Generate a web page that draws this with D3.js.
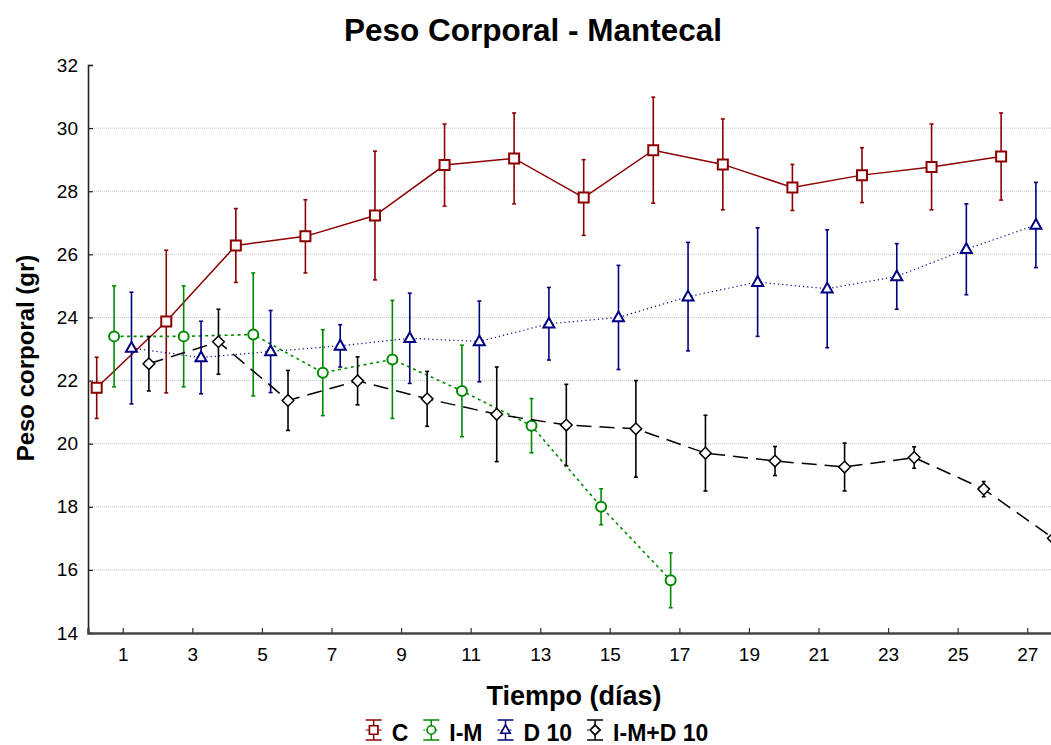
<html>

<head>
  <script src="https://d3js.org/d3.v7.min.js"></script>
  <style>
    body {
      margin: 0;
      background-color: white;
    }

    svg {
      display: block;
      font-family: "Liberation Sans", Arial, sans-serif;
    }
  </style>
</head>

<body>
  <div id="chart"></div>
</body>

<script>
  // Body weight, mean and standard deviation per group, every 2 days
  var dias = [1, 3, 5, 7, 9, 11, 13, 15, 17, 19, 21, 23, 25, 27];
  var grupos = ["C", "I-M", "D 10", "I-M+D 10"];

  var mediaC = [21.77, 23.87, 26.28, 26.57, 27.23, 28.83, 29.04, 27.80, 29.30, 28.85, 28.12, 28.51, 28.77, 29.10];
  var deC = [0.97, 2.26, 1.17, 1.16, 2.04, 1.30, 1.44, 1.20, 1.68, 1.44, 0.73, 0.87, 1.36, 1.38];

  var mediaIM = [23.40, 23.40, 23.46, 22.25, 22.67, 21.67, 20.57, 18.00, 15.67];
  var deIM = [1.60, 1.60, 1.95, 1.36, 1.87, 1.45, 0.86, 0.57, 0.87];

  var mediaD10 = [23.03, 22.73, 22.92, 23.10, 23.34, 23.24, 23.80, 24.00, 24.66, 25.12, 24.91, 25.30, 26.16, 26.93];
  var deD10 = [1.77, 1.15, 1.30, 0.67, 1.43, 1.28, 1.15, 1.65, 1.72, 1.72, 1.87, 1.04, 1.44, 1.35];

  var mediaIMD = [22.53, 23.23, 21.37, 21.99, 21.42, 20.93, 20.59, 20.47, 19.70, 19.45, 19.26, 19.56, 18.56, 17.00];
  var deIMD = [0.86, 1.03, 0.95, 0.76, 0.87, 1.50, 1.29, 1.53, 1.20, 0.46, 0.76, 0.34, 0.24, 0.30];

  var yTicks = [14, 16, 18, 20, 22, 24, 26, 28, 30, 32];

  var width = 1051, height = 745;
  var plotLeft = 88, plotRight = 1062, plotTop = 65, plotBottom = 633;

  var svg = d3.select("#chart").append("svg")
    .attr("width", width).attr("height", height);

  var x = d3.scaleLinear().domain([0, 28]).range([plotLeft, plotRight]);
  var y = d3.scaleLinear().domain([14, 32]).range([plotBottom, plotTop]);

  // series config: colour, dash pattern, marker, horizontal shift in days
  var series = [
    { name: grupos[0], media: mediaC, de: deC, color: "#8b0000", dash: null, width: 1.5, marker: "square", shift: -0.75 },
    { name: grupos[1], media: mediaIM, de: deIM, color: "#008a00", dash: "3,3.5", width: 1.6, marker: "circle", shift: -0.25 },
    { name: grupos[2], media: mediaD10, de: deD10, color: "#000080", dash: "1.2,3", width: 1.2, marker: "triangle", shift: 0.25 },
    { name: grupos[3], media: mediaIMD, de: deIMD, color: "#000000", dash: "15,8", width: 1.5, marker: "diamond", shift: 0.75 }
  ];

  function markerPath(kind) {
    if (kind == "square") return "M-5,-5H5V5H-5Z";
    if (kind == "triangle") return "M0,-6L5.5,3.8L-5.5,3.8Z";
    if (kind == "diamond") return "M0,-5.8L5.8,0L0,5.8L-5.8,0Z";
    return d3.symbol().type(d3.symbolCircle).size(Math.PI * 5 * 5)();
  }

  // Grid lines
  svg.append("g").selectAll("line")
    .data(yTicks.filter(function(d) { return d > 14 && d < 32; }))
    .enter().append("line")
    .attr("x1", plotLeft).attr("x2", width)
    .attr("y1", function(d) { return y(d); }).attr("y2", function(d) { return y(d); })
    .attr("stroke", "#c4c4c4").attr("stroke-width", 1)
    .attr("stroke-dasharray", "1,1");

  // Axes
  var yAxis = d3.axisLeft(y).tickValues(yTicks).tickSize(-5).tickPadding(10);
  var gy = svg.append("g").attr("transform", "translate(" + plotLeft + ",0)").call(yAxis);
  gy.select(".domain").attr("stroke", "#222").attr("stroke-width", 1.6);
  gy.selectAll(".tick line").attr("stroke", "#222").attr("stroke-width", 1.2);
  gy.selectAll("text").attr("font-size", 19).attr("fill", "#000")
    .attr("font-family", "Liberation Sans, Arial, sans-serif");

  var xAxis = d3.axisBottom(x).tickValues(dias).tickSize(-5).tickPadding(15);
  var gx = svg.append("g").attr("transform", "translate(0," + plotBottom + ")").call(xAxis);
  gx.select(".domain").attr("stroke", "#444").attr("stroke-width", 2.5);
  gx.selectAll(".tick line").attr("stroke", "#333").attr("stroke-width", 1.2);
  gx.selectAll("text").attr("font-size", 19).attr("fill", "#000")
    .attr("font-family", "Liberation Sans, Arial, sans-serif");

  // Lines, error bars and markers for each group
  var line = d3.line()
    .x(function(d) { return x(d.dia); })
    .y(function(d) { return y(d.media); });

  series.forEach(function(s) {
    var pts = s.media.map(function(m, i) {
      return { dia: dias[i] + s.shift, media: m, de: s.de[i] };
    });
    var g = svg.append("g");

    g.append("path").datum(pts)
      .attr("d", line)
      .attr("fill", "none")
      .attr("stroke", s.color)
      .attr("stroke-width", s.width)
      .attr("stroke-dasharray", s.dash);

    var bars = g.selectAll(".bar").data(pts).enter().append("g");
    bars.append("line")
      .attr("x1", function(d) { return x(d.dia); }).attr("x2", function(d) { return x(d.dia); })
      .attr("y1", function(d) { return y(d.media + d.de); })
      .attr("y2", function(d) { return y(d.media - d.de); })
      .attr("stroke", s.color).attr("stroke-width", 1.6);
    [1, -1].forEach(function(sign) {
      bars.append("line")
        .attr("x1", function(d) { return x(d.dia) - 2; }).attr("x2", function(d) { return x(d.dia) + 2; })
        .attr("y1", function(d) { return y(d.media + sign * d.de); })
        .attr("y2", function(d) { return y(d.media + sign * d.de); })
        .attr("stroke", s.color).attr("stroke-width", 1.6);
    });

    g.selectAll(".mk").data(pts).enter().append("path")
      .attr("d", markerPath(s.marker))
      .attr("transform", function(d) { return "translate(" + x(d.dia) + "," + y(d.media) + ")"; })
      .attr("fill", "white")
      .attr("stroke", s.color)
      .attr("stroke-width", s.marker == "diamond" ? 1.5 : 2);
  });

  // Titles
  svg.append("text").attr("x", 533).attr("y", 41)
    .attr("text-anchor", "middle").attr("font-size", 31.5).attr("font-weight", "bold")
    .text("Peso Corporal - Mantecal");

  svg.append("text").attr("x", 574).attr("y", 705)
    .attr("text-anchor", "middle").attr("font-size", 27).attr("font-weight", "bold")
    .text("Tiempo (días)");

  svg.append("text")
    .attr("transform", "translate(34,358) rotate(-90)")
    .attr("text-anchor", "middle").attr("font-size", 24).attr("font-weight", "bold")
    .text("Peso corporal (gr)");

  // Legend row
  var legend = svg.append("g");
  var cursor = 0;
  series.forEach(function(s) {
    var item = legend.append("g").attr("transform", "translate(" + cursor + ",0)");
    item.append("line").attr("x1", 8).attr("x2", 8).attr("y1", 720).attr("y2", 740)
      .attr("stroke", s.color).attr("stroke-width", 1.5);
    item.append("line").attr("x1", 0).attr("x2", 16).attr("y1", 720).attr("y2", 720)
      .attr("stroke", s.color).attr("stroke-width", 1.5);
    item.append("line").attr("x1", 0).attr("x2", 16).attr("y1", 740).attr("y2", 740)
      .attr("stroke", s.color).attr("stroke-width", 1.5);
    item.append("line").attr("x1", 0).attr("x2", 16).attr("y1", 730).attr("y2", 730)
      .attr("stroke", s.color).attr("stroke-width", 1).attr("stroke-dasharray", s.dash ? "2,2" : null);
    item.append("path").attr("d", markerPath(s.marker))
      .attr("transform", "translate(8,730) scale(0.85)")
      .attr("fill", "white").attr("stroke", s.color).attr("stroke-width", 2);
    var t = item.append("text").attr("x", 26).attr("y", 741)
      .attr("font-size", 23).attr("font-weight", "bold").text(s.name);
    cursor += 26 + t.node().getComputedTextLength() + 15;
  });
  legend.attr("transform", "translate(" + (537 - (cursor - 15) / 2) + ",0)");
</script>

</html>
